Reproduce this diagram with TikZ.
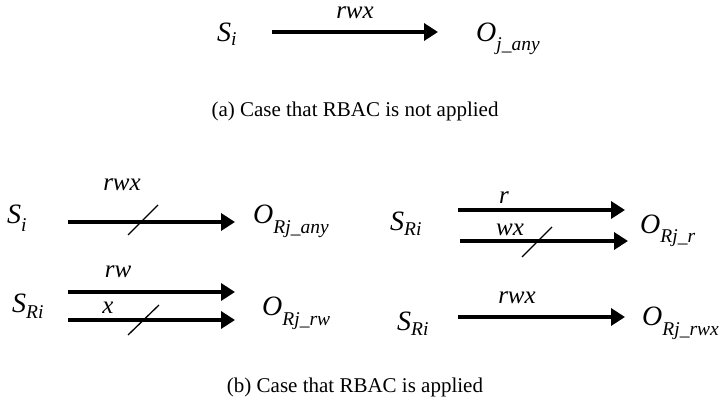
\documentclass[tikz,border=0pt]{standalone}
\usepackage{fontspec}
\setmainfont{Liberation Serif}
\usetikzlibrary{arrows.meta}
\newcommand{\symsub}[3]{{\fontsize{28}{28}\selectfont\itshape #1}\raisebox{-#3pt}{\fontsize{19.5}{19.5}\selectfont\itshape #2}}
\begin{document}
\begin{tikzpicture}[x=1pt,y=-1pt,
  arr/.style={line width=4pt,-{Triangle[length=14pt,width=17pt]}},
  cutmark/.style={line width=1.3pt},
  sym/.style={anchor=base west,inner sep=0pt},
  lbl/.style={anchor=base,inner sep=0pt,text height=12pt,font=\fontsize{25}{25}\selectfont\itshape},
  captext/.style={anchor=base,inner sep=0pt,font=\fontsize{21}{21}\selectfont}]
\useasboundingbox (0,0) rectangle (720,401);

% (a)
\node[sym] (si0) at (217,42) {\symsub{S}{i}{4}};
\coordinate (a0s) at (272,32); \coordinate (a0e) at (438,32);
\draw[arr] (a0s) -- (a0e);
\node[lbl] (l0) at (355,19) {rwx};
\node[sym] (oj0) at (476,42) {\symsub{O}{j\_any}{9}};
\node[captext] (capa) at (355,117) {(a) Case that RBAC is not applied};

% (b) panel 1
\node[sym] (si1) at (7,223) {\symsub{S}{i}{8}};
\coordinate (a1s) at (68,222); \coordinate (a1e) at (235,222);
\draw[arr] (a1s) -- (a1e);
\node[lbl] (l1) at (122,190) {rwx};
\coordinate (c1a) at (128,235); \coordinate (c1b) at (158,205);
\draw[cutmark] (c1a) -- (c1b);
\node[sym] (o1) at (253,223) {\symsub{O}{Rj\_any}{10}};

% panel 2
\node[sym] (s2) at (12,312) {\symsub{S}{Ri}{6}};
\coordinate (a2s) at (68,292); \coordinate (a2e) at (235,292);
\draw[arr] (a2s) -- (a2e);
\node[lbl] (l2) at (118,277) {rw};
\coordinate (a3s) at (68,320); \coordinate (a3e) at (235,320);
\draw[arr] (a3s) -- (a3e);
\node[lbl] (l3) at (108,313) {x};
\coordinate (c2a) at (128,335); \coordinate (c2b) at (159,305);
\draw[cutmark] (c2a) -- (c2b);
\node[sym] (o2) at (262,315) {\symsub{O}{Rj\_rw}{10}};

% panel 3
\node[sym] (s3) at (390,230) {\symsub{S}{Ri}{5}};
\coordinate (a4s) at (458,210); \coordinate (a4e) at (625,210);
\draw[arr] (a4s) -- (a4e);
\node[lbl] (l4) at (504,203) {r};
\coordinate (a5s) at (460,241); \coordinate (a5e) at (628,241);
\draw[arr] (a5s) -- (a5e);
\node[lbl] (l5) at (510,235) {wx};
\coordinate (c3a) at (522,257); \coordinate (c3b) at (552,227);
\draw[cutmark] (c3a) -- (c3b);
\node[sym] (o3) at (640,233) {\symsub{O}{Rj\_r}{9}};

% panel 4
\node[sym] (s4) at (397,330) {\symsub{S}{Ri}{5}};
\coordinate (a6s) at (458,317); \coordinate (a6e) at (625,317);
\draw[arr] (a6s) -- (a6e);
\node[lbl] (l6) at (517,303) {rwx};
\node[sym] (o4) at (642,325) {\symsub{O}{Rj\_rwx}{10}};

\node[captext] (capb) at (355,392) {(b) Case that RBAC is applied};
\end{tikzpicture}
\end{document}
